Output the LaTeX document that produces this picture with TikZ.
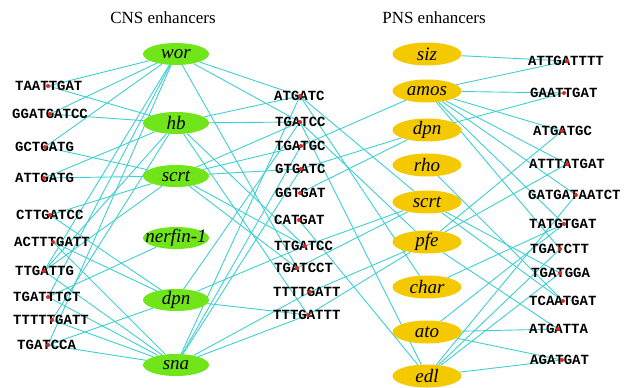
\documentclass[tikz,border=0pt]{standalone}
\usepackage{fontspec}
\setmainfont{Liberation Serif}
\newfontfamily\seqfont{Liberation Mono}
\usetikzlibrary{shapes.geometric}
\pgfdeclarelayer{bg}
\pgfsetlayers{bg,main}
\definecolor{cnsgreen}{HTML}{6FE51A}
\definecolor{pnsgold}{HTML}{F5C900}
\definecolor{edgecyan}{HTML}{3ECFD2}
\definecolor{dotred}{HTML}{E8231E}
\newcommand\seqnode[5]{\coordinate (#1) at (#4,#3);\node[seq] (#1t) at (#2,#3) {#5};\fill[dotred] (#1) circle (2pt);}
\begin{document}
\begin{tikzpicture}[x=1pt,y=-1pt,
  cns/.style={ellipse, fill=cnsgreen, minimum width=66pt, minimum height=22pt, inner sep=0pt},
  pns/.style={ellipse, fill=pnsgold, minimum width=69pt, minimum height=23pt, inner sep=0pt},
  lbl/.style={inner sep=0pt, font=\fontsize{19}{19}\selectfont\itshape},
  seq/.style={anchor=west, inner sep=0pt, font=\seqfont\bfseries\fontsize{14}{14}\selectfont},
  link/.style={draw=edgecyan, line width=0.9pt},
  title/.style={font=\fontsize{17}{17}\selectfont}]
\useasboundingbox (0,0) rectangle (629,388);
\node[title] (tc) at (163,18) {CNS enhancers};
\node[title] (tp) at (434,18) {PNS enhancers};
% CNS nodes
\foreach \n/\y/\t in {wor/54/wor,hb/123/hb,scrt/176/scrt,nerf/238/nerfin-1,dpn/300/dpn,sna/365/sna}{
  \node[cns] (\n) at (176,\y) {};
  \node[lbl] (\n l) at (176,\y) {\t};}
% PNS nodes
\foreach \n/\y/\t in {siz/54/siz,amos/91/amos,pdpn/130/dpn,rho/165/rho,pscrt/202/scrt,pfe/242/pfe,char/287/char,ato/332/ato,edl/376/edl}{
  \node[pns] (\n) at (427,\y) {};
  \node[lbl] (\n l) at (427,\y) {\t};}
% left sequences
\seqnode{L1}{15}{86}{48}{TAATTGAT}
\seqnode{L2}{12}{114}{50}{GGATGATCC}
\seqnode{L3}{15}{147}{45}{GCTGATG}
\seqnode{L4}{15}{178}{44}{ATTGATG}
\seqnode{L5}{16}{215}{50}{CTTGATCC}
\seqnode{L6}{14}{242}{53}{ACTTTGATT}
\seqnode{L7}{15}{271}{44}{TTGATTG}
\seqnode{L8}{13}{297}{48}{TGATTTCT}
\seqnode{L9}{13}{320}{52}{TTTTTGATT}
\seqnode{L10}{17}{345}{48}{TGATCCA}
% middle sequences
\seqnode{M1}{274}{96}{300}{ATGATC}
\seqnode{M2}{275}{122}{300}{TGATCC}
\seqnode{M3}{275}{146}{301}{TGATGC}
\seqnode{M4}{275}{169}{301}{GTGATC}
\seqnode{M5}{275}{193}{300}{GGTGAT}
\seqnode{M6}{274}{220}{299}{CATGAT}
\seqnode{M7}{274}{246}{305}{TTGATCC}
\seqnode{M8}{274}{268}{297}{TGATCCT}
\seqnode{M9}{273}{292}{310}{TTTTGATT}
\seqnode{M10}{273}{315}{308}{TTTGATTT}
% right sequences
\seqnode{R1}{528}{61}{567}{ATTGATTTT}
\seqnode{R2}{530}{93}{564}{GAATTGAT}
\seqnode{R3}{533}{131}{562}{ATGATGC}
\seqnode{R4}{529}{164}{567}{ATTTATGAT}
\seqnode{R5}{528}{195}{576}{GATGATAATCT}
\seqnode{R6}{529}{224}{564}{TATGTGAT}
\seqnode{R7}{530}{249}{560}{TGATCTT}
\seqnode{R8}{531}{273}{560}{TGATGGA}
\seqnode{R9}{529}{301}{563}{TCAATGAT}
\seqnode{R10}{529}{329}{558}{ATGATTA}
\seqnode{R11}{530}{360}{562}{AGATGAT}
\begin{pgfonlayer}{bg}
\foreach \a/\b in {L1/wor,L1/hb,L2/wor,L2/hb,L3/wor,L3/scrt,L4/hb,L4/scrt,
  L5/scrt,L5/dpn,L6/dpn,L6/sna,L7/wor,L7/hb,L7/scrt,L7/sna,L8/wor,L8/nerf,L8/sna,
  L9/hb,L9/sna,L10/wor,L10/dpn,L10/sna,
  M1/wor,M1/hb,M2/wor,M2/hb,M8/wor,M7/hb,M10/hb,
  M2/scrt,M3/scrt,M4/scrt,M7/scrt,M8/scrt,
  M2/dpn,M7/dpn,M10/dpn,
  M1/sna,M3/sna,M4/sna,M9/sna,M10/sna,
  M1/pscrt,M1/char,M2/pfe,M2/edl,M3/amos,M4/pdpn,M5/pdpn,M6/edl,M7/pscrt,M8/pscrt,M9/pfe,M10/pfe,
  R1/siz,R1/amos,R2/amos,R2/pdpn,R3/amos,R3/pfe,R4/amos,R4/pfe,R5/amos,R5/edl,
  R6/amos,R6/char,R6/ato,R7/amos,R7/edl,R8/pscrt,R8/edl,R9/rho,R9/pscrt,
  R10/pfe,R10/ato,R11/ato,R11/edl}
  \draw[link] (\a) -- (\b);
\end{pgfonlayer}
\end{tikzpicture}
\end{document}
